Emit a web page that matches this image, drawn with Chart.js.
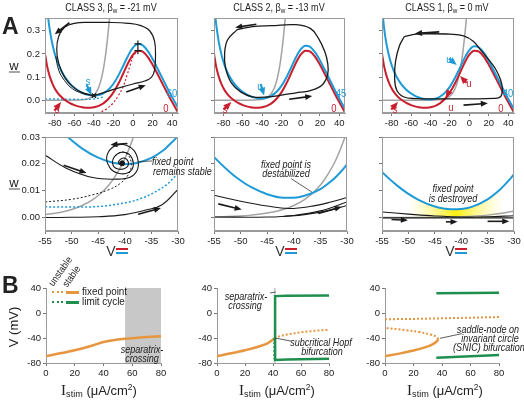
<!DOCTYPE html>
<html>
<head>
<meta charset="utf-8">
<script src="https://cdn.jsdelivr.net/npm/chart.js@4.4.1/dist/chart.umd.min.js"></script>
<style>
body { margin: 0; background: #fff; }
#fig { position: relative; width: 524px; height: 400px; overflow: hidden; background: #fff;
       font-family: "Liberation Sans", Arial, sans-serif; color: #222; }
#plots canvas { position: absolute; }
.t { position: absolute; white-space: nowrap; line-height: 1; z-index: 2; }
.c { transform: translate(-50%, -50%); }
.l { transform: translateY(-50%); }
.c.n { transform: translate(-50%, -50%) scaleX(0.86); }
.l.n { transform: translateY(-50%) scaleX(0.86); transform-origin: 0 50%; }
.i { font-style: italic; font-size: 10.5px; }
.bar { position: absolute; height: 2px; z-index: 2; }
sub { font-size: 70%; vertical-align: -2px; line-height: 0; }
sup { font-size: 65%; vertical-align: 5px; line-height: 0; }
</style>
</head>
<body>
<div id="fig">
  <div id="plots"></div>

  <div class="t c n" style="left:111px;top:7px;font-size:10.5px">CLASS 3, β<sub>w</sub> = -21 mV</div>
  <div class="t c n" style="left:279px;top:7px;font-size:10.5px">CLASS 2, β<sub>w</sub> = -13 mV</div>
  <div class="t c n" style="left:447px;top:7px;font-size:10.5px">CLASS 1, β<sub>w</sub> = 0 mV</div>

  <div class="t" style="left:2px;top:15px;font-weight:bold;font-size:23px">A</div>
  <div class="t" style="left:2px;top:274px;font-weight:bold;font-size:23px">B</div>

  <div class="t c" style="left:14px;top:65px;font-size:13px">w</div>
  <div class="bar" style="left:9px;top:71px;width:11px;background:#a6a6a6"></div>
  <div class="t c" style="left:14px;top:182px;font-size:13px">w</div>
  <div class="bar" style="left:9px;top:188px;width:11px;background:#a6a6a6"></div>

  <div class="t c" style="left:111px;top:251px;font-size:14px;color:#333">V</div>
  <div class="bar" style="left:116px;top:248px;width:12px;background:#c81e2d"></div>
  <div class="bar" style="left:116px;top:252px;width:12px;background:#1e9ad6"></div>
  <div class="t c" style="left:280px;top:251px;font-size:14px;color:#333">V</div>
  <div class="bar" style="left:285px;top:248px;width:12px;background:#c81e2d"></div>
  <div class="bar" style="left:285px;top:252px;width:12px;background:#1e9ad6"></div>
  <div class="t c" style="left:450px;top:251px;font-size:14px;color:#333">V</div>
  <div class="bar" style="left:455px;top:248px;width:12px;background:#c81e2d"></div>
  <div class="bar" style="left:455px;top:252px;width:12px;background:#1e9ad6"></div>

  <!-- nullcline labels -->
  <div class="t c n" style="left:88px;top:81px;font-size:11px;color:#1e9ad6">s</div>
  <div class="t c n" style="left:57px;top:109px;font-size:11px;color:#c81e2d">s</div>
  <div class="t c n" style="left:172px;top:93px;font-size:11px;color:#1e9ad6">60</div>
  <div class="t c n" style="left:166px;top:108px;font-size:11px;color:#c81e2d">0</div>

  <div class="t c n" style="left:260px;top:86px;font-size:11px;color:#1e9ad6">u</div>
  <div class="t c n" style="left:225px;top:109px;font-size:11px;color:#c81e2d">s</div>
  <div class="t c n" style="left:341px;top:93px;font-size:11px;color:#1e9ad6">45</div>
  <div class="t c n" style="left:334px;top:108px;font-size:11px;color:#c81e2d">0</div>

  <div class="t c n" style="left:449px;top:59px;font-size:11px;color:#1e9ad6">u</div>
  <div class="t c n" style="left:469px;top:83px;font-size:11px;color:#c81e2d">u</div>
  <div class="t c n" style="left:451px;top:107px;font-size:11px;color:#c81e2d">u</div>
  <div class="t c n" style="left:395px;top:109px;font-size:11px;color:#c81e2d">s</div>
  <div class="t c n" style="left:508px;top:93px;font-size:11px;color:#1e9ad6">40</div>
  <div class="t c n" style="left:501px;top:108px;font-size:11px;color:#c81e2d">0</div>

  <!-- middle row notes -->
  <div class="t l n i" style="left:152px;top:161px">fixed point</div>
  <div class="t l n i" style="left:153px;top:171px">remains stable</div>
  <div class="t c n i" style="left:286px;top:164px">fixed point is</div>
  <div class="t c n i" style="left:286px;top:173px">destabilized</div>
  <div class="t c n i" style="left:453px;top:188px">fixed point</div>
  <div class="t c n i" style="left:453px;top:198px">is destroyed</div>

  <!-- bottom row notes -->
  <div class="t c n i" style="left:142px;top:349px">separatrix-</div>
  <div class="t c n i" style="left:142px;top:358px">crossing</div>
  <div class="t c n i" style="left:246px;top:296px">separatrix-</div>
  <div class="t c n i" style="left:245px;top:305px">crossing</div>
  <div class="t c n i" style="left:321px;top:342px">subcritical Hopf</div>
  <div class="t c n i" style="left:322px;top:351px">bifurcation</div>
  <div class="t c n i" style="left:488px;top:329px">saddle-node on</div>
  <div class="t c n i" style="left:490px;top:338px">invariant circle</div>
  <div class="t c n i" style="left:489px;top:347px">(SNIC) bifurcation</div>

  <!-- legend -->
  <div class="t" style="left:55px;top:278px;font-size:10px;transform-origin:0 100%;transform:rotate(-55deg) scaleX(0.88)">unstable</div>
  <div class="t" style="left:69px;top:279px;font-size:10px;transform-origin:0 100%;transform:rotate(-55deg) scaleX(0.88)">stable</div>
  <div style="position:absolute;z-index:2;left:52px;top:291px;width:11px;border-top:2px dotted #e8953f"></div>
  <div class="bar" style="left:66px;top:291px;width:13px;height:2.5px;background:#e8953f"></div>
  <div class="t l n" style="left:82px;top:292px;font-size:11.5px">fixed point</div>
  <div style="position:absolute;z-index:2;left:52px;top:301px;width:11px;border-top:2px dotted #1f8f4e"></div>
  <div class="bar" style="left:66px;top:301px;width:13px;height:2.5px;background:#1f8f4e"></div>
  <div class="t l n" style="left:82px;top:302px;font-size:11.5px">limit cycle</div>

  <div class="t c" style="left:13px;top:327px;font-size:13px;transform:translate(-50%,-50%) rotate(-90deg)">V (mV)</div>
  <div class="t c" style="left:99px;top:390px;font-size:13px"><span style="font-family:'Liberation Serif',serif;font-size:15px">I</span><sub>stim</sub> (μA/cm<sup>2</sup>)</div>
  <div class="t c" style="left:277px;top:390px;font-size:13px"><span style="font-family:'Liberation Serif',serif;font-size:15px">I</span><sub>stim</sub> (μA/cm<sup>2</sup>)</div>
  <div class="t c" style="left:445px;top:390px;font-size:13px"><span style="font-family:'Liberation Serif',serif;font-size:15px">I</span><sub>stim</sub> (μA/cm<sup>2</sup>)</div>
</div>

<script>
// V-nullclines: membrane voltage (mV) and w for I = 0 (red) and the stimulated case (blue)
const vNull = [-90, -88, -87, -85, -82, -80, -78, -75, -70, -65, -60, -55, -52, -50, -48, -45, -42, -40, -38, -35,
  -33, -32, -30, -25, -20, -15, -10, -5, 0, 5, 10, 15, 20, 25, 30, 35, 40, 45, 48];
const wRed = [0.2007, 0.1508, 0.1316, 0.1008, 0.0676, 0.0510, 0.0375, 0.0214, 0.0019, -0.0115, -0.0210, -0.0274, -0.0300,
  -0.0312, -0.0320, -0.0323, -0.0314, -0.0301, -0.0282, -0.0240, -0.0201, -0.0178, -0.0124, 0.0064, 0.0339, 0.0710,
  0.1155, 0.1608, 0.1967, 0.2139, 0.2096, 0.1873, 0.1533, 0.1136, 0.0723, 0.0314, -0.0079, -0.0450, -0.0663];
const wBlue60 = [0.5007, 0.4008, 0.3624, 0.3008, 0.2342, 0.2010, 0.1739, 0.1414, 0.1019, 0.0742, 0.0540, 0.0392, 0.0325,
  0.0288, 0.0257, 0.0223, 0.0203, 0.0199, 0.0202, 0.0222, 0.0247, 0.0264, 0.0305, 0.0464, 0.0714, 0.1063, 0.1489,
  0.1924, 0.2267, 0.2424, 0.2368, 0.2133, 0.1783, 0.1376, 0.0953, 0.0536, 0.0136, -0.0243, -0.0460];
const wBlue45 = [0.4257, 0.3383, 0.3047, 0.2508, 0.1926, 0.1635, 0.1398, 0.1114, 0.0769, 0.0527, 0.0352, 0.0226, 0.0169,
  0.0138, 0.0113, 0.0087, 0.0074, 0.0074, 0.0081, 0.0106, 0.0135, 0.0153, 0.0198, 0.0364, 0.0621, 0.0975, 0.1405,
  0.1845, 0.2192, 0.2353, 0.2300, 0.2068, 0.1721, 0.1316, 0.0896, 0.0480, 0.0082, -0.0295, -0.0511];
const wBlue40 = [0.4007, 0.3175, 0.2855, 0.2341, 0.1787, 0.1510, 0.1284, 0.1014, 0.0686, 0.0456, 0.0290, 0.0170, 0.0117,
  0.0088, 0.0065, 0.0041, 0.0031, 0.0032, 0.0040, 0.0068, 0.0098, 0.0117, 0.0162, 0.0330, 0.0589, 0.0946, 0.1378,
  0.1819, 0.2167, 0.2329, 0.2277, 0.2047, 0.1700, 0.1296, 0.0877, 0.0462, 0.0064, -0.0312, -0.0528];

// w-nullclines (grey) for the three classes
const grey3V = [-90, -70, -60, -55, -52, -50, -48, -46, -45, -44, -43, -42, -41, -40, -39, -38, -37, -36, -34, -32, -30, -28, -26, -24, -22];
const grey3W = [0, 0.00006, 0.0004, 0.0011, 0.0020, 0.0030, 0.0045, 0.0067, 0.0082, 0.0100, 0.0121, 0.0148, 0.0180,
  0.0219, 0.0266, 0.0323, 0.0392, 0.0474, 0.0691, 0.0998, 0.1419, 0.1978, 0.2689, 0.3543, 0.4502];
const grey2V = [-90, -70, -60, -55, -50, -48, -45, -42, -40, -38, -36, -35, -34, -32, -30, -28, -26, -24, -22, -20, -18, -16, -14];
const grey2W = [0, 0.00001, 0.00008, 0.00022, 0.00061, 0.00091, 0.00166, 0.00302, 0.0045, 0.00669, 0.00995, 0.01213,
  0.01477, 0.02188, 0.03229, 0.04743, 0.06914, 0.09975, 0.1419, 0.1978, 0.2689, 0.3543, 0.4502];
const grey1V = [-90, -60, -50, -45, -40, -35, -32, -30, -28, -25, -22, -20, -18, -16, -14, -12, -10, -8, -6, -4, -2];
const grey1W = [0, 0.000006, 0.000045, 0.00012, 0.00034, 0.00091, 0.00166, 0.00247, 0.00369, 0.00669, 0.01213, 0.01799,
  0.0266, 0.03917, 0.05732, 0.08316, 0.1192, 0.168, 0.2315, 0.31, 0.4013];

// dotted separatrices (class 3)
const blueDotV = [-90, -70, -55, -50, -45, -42, -38, -35, -32, -30];
const blueDotW = [0.006, 0.005, 0.004, 0.0039, 0.0041, 0.0048, 0.0064, 0.0088, 0.0125, 0.0165];
const redDotT1 = [[-36, -0.056], [-28, -0.04], [-21, -0.015], [-15, 0.02], [-10, 0.06], [-6, 0.11], [-3, 0.15], [0, 0.19], [4, 0.21]];

// trajectories, [V, w]
const loopT1 = [[-40, 0.02], [-30, 0.033], [-17, 0.05], [0, 0.07], [12, 0.083], [19, 0.1], [22, 0.13], [23, 0.19], [22, 0.255],
  [17, 0.3], [8, 0.322], [-5, 0.332], [-25, 0.336], [-45, 0.336], [-60, 0.332], [-70, 0.315], [-76, 0.275], [-78, 0.22],
  [-76, 0.16], [-70, 0.1], [-62, 0.06], [-52, 0.033], [-40, 0.02]];
const innerT1 = [[-79, 0.19], [-76, 0.13], [-70, 0.085], [-62, 0.05], [-52, 0.03], [-42, 0.021]];
const peaksT1 = [[5, 0.243], [5, 0.214]];
const loopT2 = [[-66, 0.305], [-50, 0.318], [-30, 0.322], [-5, 0.326], [10, 0.31], [18, 0.27], [25, 0.21], [28, 0.16],
  [28, 0.11], [22, 0.065], [10, 0.042], [-5, 0.032], [-20, 0.022], [-35, 0.014], [-50, 0.015], [-62, 0.035], [-72, 0.075],
  [-78, 0.14], [-79, 0.2], [-76, 0.26], [-66, 0.305]];
const loopT3 = [[-67, 0.275], [-55, 0.285], [-40, 0.287], [-20, 0.285], [-6, 0.278], [4, 0.255], [12, 0.215], [20, 0.175],
  [27, 0.135], [32, 0.09], [34, 0.05], [32, 0.015], [25, 0.008], [0, 0.006], [-30, 0.006], [-55, 0.007], [-68, 0.015],
  [-75, 0.045], [-77, 0.1], [-76, 0.17], [-72, 0.235], [-67, 0.275]];

const spiralM1 = [[-55, 0.0233], [-51, 0.0184], [-46, 0.0149], [-41.5, 0.0143], [-39, 0.015], [-37.7, 0.0175], [-37.5, 0.021],
  [-38.3, 0.025], [-40.3, 0.0272], [-42.3, 0.0262], [-43.4, 0.0225], [-42.8, 0.0185], [-41.2, 0.0165], [-39.3, 0.0168],
  [-38.4, 0.0195], [-39, 0.0232], [-40.5, 0.0243], [-42, 0.0225], [-42.2, 0.0195], [-41, 0.018], [-39.6, 0.0188],
  [-39.4, 0.021], [-40.3, 0.0222], [-41.2, 0.0207], [-40.7, 0.0197], [-40.5, 0.0202]];
const blackDotM1 = [[-55, 0.0058], [-50, 0.0068], [-46, 0.0085], [-43, 0.0104], [-41, 0.0125], [-39.5, 0.0155], [-38.8, 0.019],
  [-39.2, 0.0228], [-40.5, 0.0245], [-41.8, 0.023]];
const lowM1 = [[-55, 0], [-50, 0.0001], [-45, 0.0003], [-40, 0.0011], [-36, 0.0028], [-33, 0.0048], [-30, 0.0105]];
const fixedM1 = [[-40.5, 0.0202]];
const upM2 = [[-55, 0.0083], [-50, 0.0061], [-45, 0.0043], [-41, 0.0034], [-37, 0.0041], [-33, 0.0058], [-30, 0.0075]];
const lowM2a = [[-55, 0.0002], [-45, 0.0002], [-40, 0.0008], [-35, 0.0025], [-30, 0.0058]];
const lowM2b = [[-42, 0.0004], [-38, 0.0011], [-34, 0.0024], [-30, 0.0045]];
const upM3 = [[-55, 0.0021], [-50, 0.0013], [-45, 0.0006], [-40, 0.0002], [-35, 0.0003], [-30, 0.0007]];
const lowM3 = [[-55, -0.0001], [-30, -0.0001]];
const glowV = [-50, -48, -45, -42, -40, -38, -35, -33, -32];
const glowW = [0.0088, 0.0065, 0.0041, 0.0031, 0.0032, 0.0040, 0.0068, 0.0098, 0.0117];

// bifurcation diagrams, [I_stim, V]
const fixB1 = [[0, -69], [10, -64.5], [20, -59.5], [30, -53.5], [40, -46.5], [50, -42.5], [60, -40.3], [70, -38.5], [80, -37]];
const sepB1 = [[55, 40], [80, 40]];
const fixB2 = [[0, -69], [10, -64.5], [20, -59.5], [30, -53.5], [36, -48.5], [41, -41]];
const unstB2 = [[41, -41], [45, -37], [50, -34.5], [60, -31], [70, -28.5], [80, -27]];
const bandB2 = [[40.5, 40], [42, 40]];
const cycTopB2 = [[41.5, -40], [41.5, 27], [50, 27.5], [80, 28]];
const cycBotB2 = [[41.5, -40], [41.5, -75], [50, -74.5], [80, -73]];
const cycDotB2 = [[40.8, -40], [40.8, -74]];
const fixB3 = [[0, -69], [10, -65], [20, -60], [28, -55], [33, -50.5], [36, -46], [37.5, -42]];
const saddleB3 = [[37.5, -42], [36, -38], [32, -34.5], [24, -30.5], [15, -27.5], [0, -24]];
const upperB3 = [[0, -10], [20, -9.5], [40, -8.5], [60, -7.5], [80, -6.5]];
const cycTopB3 = [[36, 31.5], [80, 32.5]];
const cycBotB3 = [[36, -71.5], [80, -67]];

// ticks
const xTicksTop = [-80, -60, -40, -20, 0, 20, 40];
const yTicksTop = [0, 0.1, 0.2, 0.3];
const xTicksMid = [-55, -50, -45, -40, -35, -30];
const yTicksMid = [0, 0.01, 0.02, 0.03];
const xTicksBot = [0, 20, 40, 60, 80];
const yTicksBot = [-80, -40, 0, 40];

// arrows [x1, y1, x2, y2] in data units
const arrowsT1 = [[-65, 0.335, -80, 0.285], [-7, 0.036, 13, 0.065]];
const marksT1 = [[-47.5, 0.068, -42.5, 0.022, 'b'], [-80.5, -0.045, -73.5, -0.008, 'r']];
const arrowsT2 = [[-46, 0.328, -68, 0.314], [-12, 0.004, 12, 0.018]];
const marksT2 = [[-41.5, 0.07, -38, 0.02, 'b'], [-80, -0.04, -72, -0.008, 'r']];
const arrowsT3 = [[-31, 0.295, -56, 0.288], [-6, -0.021, 19, -0.013]];
const marksT3 = [[-21, 0.18, -13, 0.152, 'b'], [-3, 0.075, -9.5, 0.105, 'r'], [-21, 0.035, -24.5, 0.01, 'r'],
  [-80.5, -0.04, -73.5, -0.008, 'r']];
const arrowsM1 = [[-39.5, 0.0276, -42.7, 0.0271], [-51.5, 0.0195, -47.2, 0.0166], [-37.5, 0.0012, -33.2, 0.0036]];
const leadM1 = [[-37.4, 0.0208, -34.8, 0.0211]];
const arrowsM2 = [[-54.2, 0.0051, -49.8, 0.003], [-35.4, 0.0015, -31, 0.004]];
const leadM2 = [[-36.6, 0.0095, -40.5, 0.0145]];
const arrowsM3 = [[-53.2, -0.0007, -50.1, -0.001], [-42.9, -0.0016, -40.7, -0.0016], [-35, -0.0014, -30.9, -0.0014]];
const leadB2 = [[37.9, 32, 42, 33.6], [41.5, -40, 53, -45]];
const leadB3 = [[38.6, -40.5, 54, -33]];

const RED = '#c81e2d', BLUE = '#1e9ad6', GREY = '#a3a3a3', ORANGE = '#e8953f', GREEN = '#1f8f4e', INK = '#1a1a1a';
const AY = 34, AX = 20, PT = 8, PR = 16;
const tickFont = { family: '"Liberation Sans", Arial, sans-serif', size: 9.5 };

function zip(xs, ys) { return xs.map((x, i) => ({ x, y: ys[i] })); }
function pts(pairs) { return pairs.map(p => ({ x: p[0], y: p[1] })); }

function ln(data, color, width, extra) {
  return Object.assign({ data, showLine: true, borderColor: color, backgroundColor: color, borderWidth: width,
    pointRadius: 0, fill: false, tension: 0 }, extra || {});
}
const smooth = { cubicInterpolationMode: 'monotone' };
const curvy = { tension: 0.4 };

function drawArrow(ctx, x1, y1, x2, y2, col, head, lw) {
  const a = Math.atan2(y2 - y1, x2 - x1), c = Math.cos(a), s = Math.sin(a);
  ctx.strokeStyle = col; ctx.fillStyle = col; ctx.lineWidth = lw;
  ctx.beginPath(); ctx.moveTo(x1, y1); ctx.lineTo(x2 - head * 0.8 * c, y2 - head * 0.8 * s); ctx.stroke();
  ctx.beginPath(); ctx.moveTo(x2, y2);
  ctx.lineTo(x2 - head * c + head * 0.42 * s, y2 - head * s - head * 0.42 * c);
  ctx.lineTo(x2 - head * c - head * 0.42 * s, y2 - head * s + head * 0.42 * c);
  ctx.closePath(); ctx.fill();
}

function extras(spec) {
  return {
    id: 'extras',
    afterDatasetsDraw(chart) {
      const { ctx, chartArea: a, scales: { x, y } } = chart;
      ctx.save();
      (spec.leads || []).forEach(l => {
        ctx.strokeStyle = '#333'; ctx.lineWidth = 0.8;
        ctx.beginPath();
        ctx.moveTo(x.getPixelForValue(l[0]), y.getPixelForValue(l[1]));
        ctx.lineTo(x.getPixelForValue(l[2]), y.getPixelForValue(l[3]));
        ctx.stroke();
      });
      (spec.arrows || []).forEach(r => drawArrow(ctx, x.getPixelForValue(r[0]), y.getPixelForValue(r[1]),
        x.getPixelForValue(r[2]), y.getPixelForValue(r[3]), INK, 7, 1.6));
      (spec.marks || []).forEach(r => drawArrow(ctx, x.getPixelForValue(r[0]), y.getPixelForValue(r[1]),
        x.getPixelForValue(r[2]), y.getPixelForValue(r[3]), r[4] === 'b' ? BLUE : RED, 8, 2.2));
      if (spec.frame) {
        ctx.strokeStyle = '#9a9a9a'; ctx.lineWidth = 1;
        ctx.strokeRect(Math.round(a.left) + 0.5, Math.round(a.top) + 0.5, Math.round(a.width) - 1, Math.round(a.height) - 1);
      }
      ctx.restore();
    }
  };
}

function axis(range, ticks, fmt, isX) {
  return {
    type: 'linear', min: range[0], max: range[1],
    afterBuildTicks: s => { s.ticks = ticks.map(v => ({ value: v })); },
    afterFit: s => { if (isX) s.height = AX; else s.width = AY; },
    grid: { display: true, drawOnChartArea: false, drawTicks: true, tickLength: 3, color: '#777', tickColor: '#777' },
    border: { display: true, color: '#9a9a9a', width: 1 },
    ticks: { padding: 2, color: '#222', font: tickFont, autoSkip: false, maxRotation: 0, callback: v => fmt(v) }
  };
}

const plots = document.getElementById('plots');
function panel(area, xr, yr, xt, yt, fx, fy, datasets, spec) {
  const c = document.createElement('canvas');
  const w = area[2] - area[0] + AY + PR, h = area[3] - area[1] + PT + AX;
  c.width = w; c.height = h;
  c.style.left = (area[0] - AY) + 'px'; c.style.top = (area[1] - PT) + 'px';
  c.style.width = w + 'px'; c.style.height = h + 'px';
  plots.appendChild(c);
  new Chart(c, {
    type: 'scatter',
    data: { datasets },
    options: {
      responsive: false, animation: false, devicePixelRatio: 1,
      layout: { padding: { top: PT, right: PR, left: 0, bottom: 0 } },
      plugins: { legend: { display: false }, tooltip: { enabled: false } },
      scales: { x: axis(xr, xt, fx, true), y: axis(yr, yt, fy, false) }
    },
    plugins: [extras(spec)]
  });
}

const fmtX = v => String(v);
const none = () => '';
const f1 = v => v.toFixed(1);
const f2 = v => v.toFixed(2);
const xrTop = [-90, 46], yrTop = [-0.055, 0.355];
const xrMid = [-55, -30], yrMid = [-0.005, 0.03];
const xrBot = [0, 80], yrBot = [-80, 40];

// top row: phase planes
panel([45, 18, 178, 113], xrTop, yrTop, xTicksTop, yTicksTop, fmtX, f1, [
  ln(pts(loopT1), INK, 1.2, curvy),
  ln(pts(innerT1), INK, 1, curvy),
  { data: pts(peaksT1), showLine: false, pointStyle: 'cross', pointRadius: 3.5, borderColor: INK, borderWidth: 1.2 },
  { data: [{ x: -40, y: 0.02 }], showLine: false, pointStyle: 'crossRot', pointRadius: 3, borderColor: INK, borderWidth: 1.5 },
  ln(zip(vNull, wBlue60), BLUE, 2, smooth),
  ln(zip(vNull, wRed), RED, 2, smooth),
  ln(pts(redDotT1), RED, 1.2, Object.assign({ borderDash: [2, 2] }, curvy)),
  ln(zip(blueDotV, blueDotW), BLUE, 1.3, Object.assign({ borderDash: [2, 2] }, smooth)),
  ln(zip(grey3V, grey3W), GREY, 1.5, smooth)
], { frame: true, arrows: arrowsT1, marks: marksT1 });

panel([214, 18, 345, 113], xrTop, yrTop, xTicksTop, yTicksTop, fmtX, none, [
  ln(pts(loopT2), INK, 1.3, curvy),
  ln(zip(vNull, wBlue45), BLUE, 2, smooth),
  ln(zip(vNull, wRed), RED, 2, smooth),
  ln(zip(grey2V, grey2W), GREY, 1.5, smooth)
], { frame: true, arrows: arrowsT2, marks: marksT2 });

panel([382, 18, 514, 113], xrTop, yrTop, xTicksTop, yTicksTop, fmtX, none, [
  ln(pts(loopT3), INK, 1.3, curvy),
  ln(zip(vNull, wBlue40), BLUE, 2, smooth),
  ln(zip(vNull, wRed), RED, 2, smooth),
  ln(zip(grey1V, grey1W), GREY, 1.5, smooth)
], { frame: true, arrows: arrowsT3, marks: marksT3 });

// middle row: zoom around the fixed point
panel([45, 137, 178, 231], xrMid, yrMid, xTicksMid, yTicksMid, fmtX, f2, [
  { data: pts(fixedM1), showLine: false, pointRadius: 2.5, backgroundColor: INK, borderColor: INK },
  ln(pts(spiralM1), INK, 1.1, curvy),
  ln(pts(blackDotM1), INK, 1, Object.assign({ borderDash: [2, 2] }, curvy)),
  ln(pts(lowM1), INK, 1.1, curvy),
  ln(zip(blueDotV, blueDotW), BLUE, 1.5, Object.assign({ borderDash: [2, 2] }, smooth)),
  ln(zip(vNull, wBlue60), BLUE, 2, smooth),
  ln(zip(grey3V, grey3W), GREY, 1.5, smooth)
], { frame: true, arrows: arrowsM1, leads: leadM1 });

panel([214, 137, 347, 231], xrMid, yrMid, xTicksMid, yTicksMid, fmtX, none, [
  ln(pts(upM2), INK, 1.1, curvy),
  ln(pts(lowM2a), INK, 1.1, curvy),
  ln(pts(lowM2b), INK, 1.1, curvy),
  ln(zip(vNull, wBlue45), BLUE, 2, smooth),
  ln(zip(grey2V, grey2W), GREY, 1.5, smooth)
], { frame: true, arrows: arrowsM2, leads: leadM2 });

panel([382, 137, 514, 231], xrMid, yrMid, xTicksMid, yTicksMid, fmtX, none, [
  ln(pts(upM3), INK, 1.1, curvy),
  ln(pts(lowM3), INK, 1.1),
  ln(zip(vNull, wBlue40), BLUE, 2, smooth),
  ln(zip(grey1V, grey1W), GREY, 1.5, smooth),
  ln(zip(glowV, glowW), 'rgba(0,0,0,0)', 0, Object.assign({
    order: 10, fill: { value: 0 },
    backgroundColor: ctx => {
      const ch = ctx.chart;
      if (!ch.chartArea) return 'rgba(0,0,0,0)';
      const xs = ch.scales.x;
      const g = ch.ctx.createLinearGradient(xs.getPixelForValue(glowV[0]), 0, xs.getPixelForValue(glowV[glowV.length - 1]), 0);
      g.addColorStop(0, 'rgba(255,245,120,0)');
      g.addColorStop(0.5, 'rgba(255,236,0,0.95)');
      g.addColorStop(1, 'rgba(255,245,120,0)');
      return g;
    }
  }, smooth))
], { frame: true, arrows: arrowsM3 });

// bottom row: bifurcation diagrams
panel([46, 288, 161, 363], xrBot, yrBot, xTicksBot, yTicksBot, fmtX, fmtX, [
  ln(pts(fixB1), ORANGE, 2.5, smooth),
  ln(pts(sepB1), 'rgba(0,0,0,0)', 0, { order: 10, fill: { value: -80 }, backgroundColor: '#c8c8c8' })
], {});

panel([217, 288, 329, 363], xrBot, yrBot, xTicksBot, yTicksBot, fmtX, fmtX, [
  ln(pts(cycTopB2), GREEN, 2.5),
  ln(pts(cycBotB2), GREEN, 2.5),
  ln(pts(cycDotB2), GREEN, 1.5, { borderDash: [2, 2] }),
  ln(pts(fixB2), ORANGE, 2.5, smooth),
  ln(pts(unstB2), ORANGE, 2, Object.assign({ borderDash: [2, 2] }, smooth)),
  ln(pts(bandB2), 'rgba(0,0,0,0)', 0, { order: 10, fill: { value: -80 }, backgroundColor: '#c8c8c8' })
], { leads: leadB2 });

panel([385, 288, 499, 363], xrBot, yrBot, xTicksBot, yTicksBot, fmtX, fmtX, [
  ln(pts(cycTopB3), GREEN, 2.5),
  ln(pts(cycBotB3), GREEN, 2.5),
  ln(pts(fixB3), ORANGE, 2.5, curvy),
  ln(pts(saddleB3), ORANGE, 2, Object.assign({ borderDash: [2, 2] }, curvy)),
  ln(pts(upperB3), ORANGE, 2, { borderDash: [2, 2] })
], { leads: leadB3 });
</script>
</body>
</html>
